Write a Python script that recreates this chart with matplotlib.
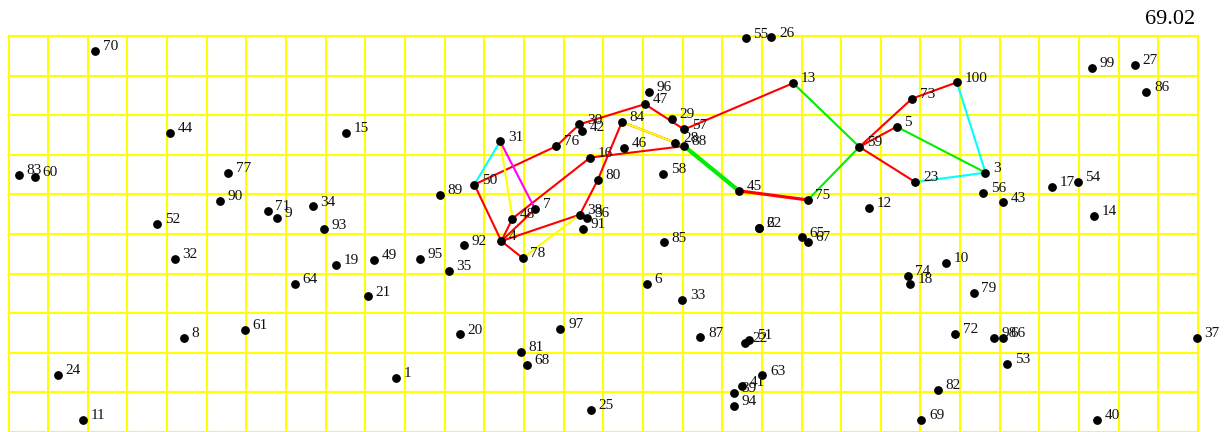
import matplotlib.pyplot as plt

# Coordenadas de los 100 puntos (unidades de la cuadricula, 30 x 10)
xs = [9.77, 18.92, 24.64, 12.43, 22.40, 16.10, 13.28, 4.42, 6.78, 23.64,
      1.89, 21.71, 19.79, 27.38, 8.52, 14.67, 26.33, 22.74, 8.26, 11.39,
      9.06, 18.58, 22.87, 1.24, 14.68, 19.24, 28.40, 16.82, 16.73, 14.40,
      12.40, 4.20, 16.99, 7.67, 11.11, 14.58, 29.97, 14.41, 18.29, 27.45,
      18.51, 14.46, 25.09, 4.08, 18.42, 15.53, 16.05, 12.71, 9.22, 11.75,
      18.68, 3.75, 25.19, 26.97, 18.59, 24.59, 17.04, 16.51, 21.46, 0.67,
      5.96, 18.93, 19.01, 7.23, 20.01, 25.08, 20.16, 13.07, 23.02, 2.18,
      6.54, 23.87, 22.79, 22.68, 20.16, 13.82, 5.54, 12.97, 24.34, 14.86,
      12.92, 23.44, 0.26, 15.47, 16.52, 28.70, 17.45, 17.04, 10.88, 5.33,
      14.48, 11.49, 7.96, 18.29, 10.37, 16.16, 13.92, 24.86, 27.33, 23.92]
ys = [1.36, 5.16, 6.55, 4.82, 7.71, 3.74, 5.63, 2.37, 5.40, 4.28,
      0.30, 5.66, 8.81, 5.46, 7.55, 6.93, 6.19, 3.74, 4.22, 2.47,
      3.43, 2.26, 6.31, 1.45, 0.56, 9.97, 9.28, 7.31, 7.90, 7.77,
      7.34, 4.38, 3.33, 5.70, 4.07, 5.40, 2.37, 5.49, 0.99, 0.30,
      1.15, 7.59, 5.80, 7.55, 6.09, 7.18, 8.28, 5.39, 4.34, 6.25,
      2.32, 5.25, 1.72, 6.32, 9.94, 6.04, 7.64, 6.52, 7.20, 6.45,
      2.58, 5.15, 1.43, 3.75, 4.92, 2.38, 4.80, 1.70, 0.30, 9.63,
      5.58, 2.48, 8.42, 3.94, 5.86, 7.22, 6.55, 4.39, 3.51, 6.36,
      2.03, 1.07, 6.49, 7.83, 4.79, 8.59, 2.39, 7.22, 5.99, 5.83,
      5.13, 4.71, 5.12, 0.66, 4.38, 8.59, 2.61, 2.37, 9.19, 8.83]
ids = list(range(1, 101))

# Aristas por color (numero de punto inicial, numero de punto final)
red_edges = [(50, 76), (76, 30), (30, 47), (47, 57), (57, 13), (50, 4), (4, 78),
             (4, 48), (48, 16), (4, 7), (4, 38), (38, 80), (80, 84), (16, 88),
             (84, 88), (59, 73), (73, 100), (59, 5), (59, 23)]
thick_red_edges = [(45, 75)]
green_edges = [(13, 59), (75, 59), (5, 3)]
thick_green_edges = [(88, 45)]
cyan_edges = [(31, 50), (100, 3), (23, 3)]
yellow_edges = [(31, 48), (78, 38), (84, 88)]
magenta_edges = [(31, 7)]

value = 69.02

fig = plt.figure(figsize=(12.25, 4.32), dpi=100)
ax = fig.add_axes([8.5 / 1225, 0, (1198 - 8.5) / 1225, 396 / 432])
ax.set_xlim(0, 30)
ax.set_ylim(0, 10)
ax.axis('off')

# Cuadricula amarilla
for i in range(31):
    ax.plot([i, i], [0, 10], color='#ffff00', lw=1.5, clip_on=False, zorder=1)
for j in range(11):
    ax.plot([0, 30], [j, j], color='#ffff00', lw=1.5, clip_on=False, zorder=1)


def draw_edges(edges, color, lw):
    for a, b in edges:
        ax.plot([xs[a - 1], xs[b - 1]], [ys[a - 1], ys[b - 1]],
                color=color, lw=lw, zorder=2, solid_capstyle='butt')


draw_edges(red_edges, '#ff0000', 1.5)
draw_edges(thick_red_edges, '#ff0000', 2.3)
draw_edges(green_edges, '#00ee00', 1.5)
draw_edges(thick_green_edges, '#00ee00', 3.0)
draw_edges(cyan_edges, '#00ffff', 1.5)
draw_edges(yellow_edges, '#ffff00', 1.5)
draw_edges(magenta_edges, '#ff00ff', 1.5)

# Puntos y etiquetas
ax.scatter(xs, ys, s=28, color='black', zorder=3, clip_on=False)
for i, x, y in zip(ids, xs, ys):
    ax.annotate(str(i), (x, y), xytext=(5.5, 3), textcoords='offset points',
                ha='left', va='center', fontsize=11, family='Liberation Serif',
                color='#111111', annotation_clip=False, zorder=4)

fig.text(1195 / 1225, 1 - 19 / 432, f'{value:.2f}', ha='right', va='center',
         fontsize=16, family='Liberation Serif')

fig.savefig('out.png', dpi=100)
